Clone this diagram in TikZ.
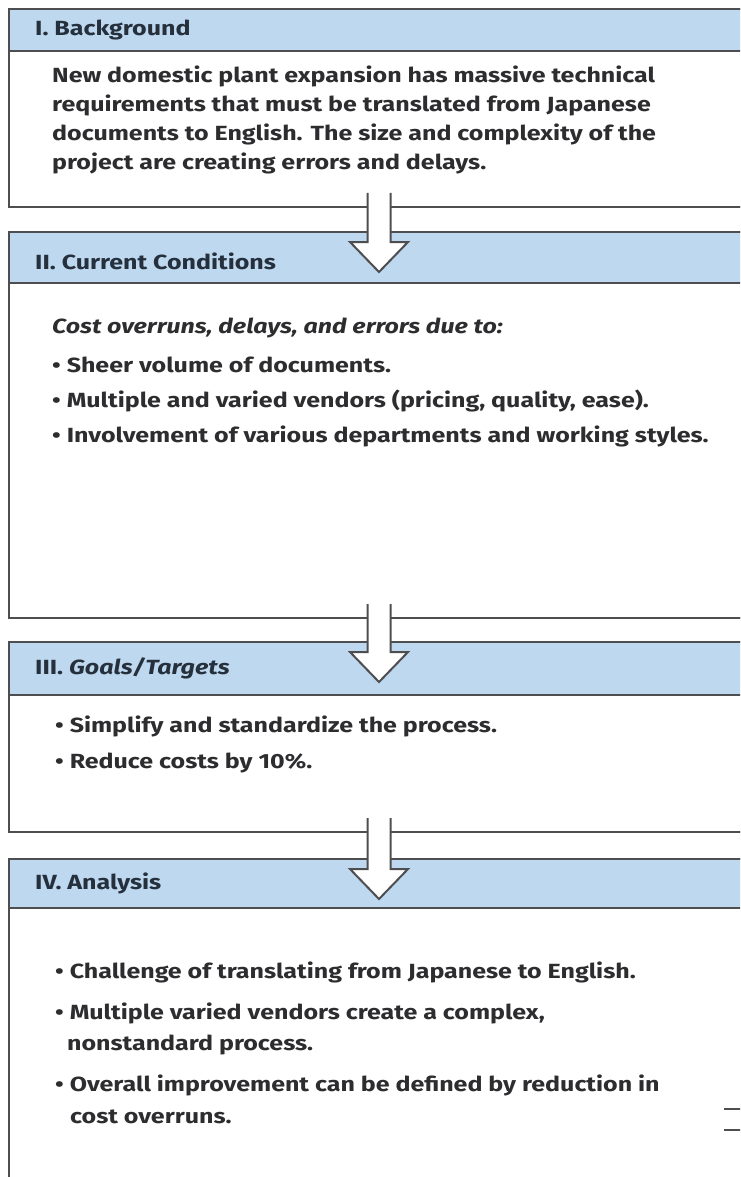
\documentclass[tikz,border=0pt]{standalone}
\usepackage{fontspec}
\setmainfont{Fira Sans}[FakeStretch=1.22]
\usetikzlibrary{calc}
\definecolor{headblue}{RGB}{189,216,239}
\definecolor{boxline}{RGB}{78,78,80}
\definecolor{inktext}{RGB}{45,45,48}
\definecolor{inkhead}{RGB}{38,48,60}
\begin{document}
\begin{tikzpicture}[x=1pt,y=-1pt,
  panel/.style={draw=boxline, line width=2.2pt, fill=white, anchor=north west,
    minimum width=740pt, inner sep=0pt, outer sep=0pt},
  band/.style={fill=headblue},
  rule/.style={draw=boxline, line width=2.2pt},
  title/.style={anchor=west, inner sep=0pt, text=inkhead, font=\fontsize{20.5}{24}\selectfont\bfseries},
  body/.style={anchor=west, inner sep=0pt, text=inktext, font=\fontsize{20.5}{24}\selectfont\bfseries}]
\useasboundingbox (0,0) rectangle (740,1177);
\clip (0,0) rectangle (740,1177);

% ---- panels ----
\node[panel, minimum height=198pt] (p1) at (9,9) {};
\fill[band] (p1.north west) rectangle ($(p1.north east)+(0,42)$);
\draw[rule] ($(p1.north west)+(0,42)$) -- ($(p1.north east)+(0,42)$);
\draw[rule] (p1.north west) rectangle (p1.south east);

\node[panel, minimum height=386pt] (p2) at (9,232) {};
\fill[band] (p2.north west) rectangle ($(p2.north east)+(0,51)$);
\draw[rule] ($(p2.north west)+(0,51)$) -- ($(p2.north east)+(0,51)$);
\draw[rule] (p2.north west) rectangle (p2.south east);

\node[panel, minimum height=190pt] (p3) at (9,642) {};
\fill[band] (p3.north west) rectangle ($(p3.north east)+(0,53)$);
\draw[rule] ($(p3.north west)+(0,53)$) -- ($(p3.north east)+(0,53)$);
\draw[rule] (p3.north west) rectangle (p3.south east);

\node[panel, minimum height=360pt] (p4) at (9,859) {};
\fill[band] (p4.north west) rectangle ($(p4.north east)+(0,49)$);
\draw[rule] ($(p4.north west)+(0,49)$) -- ($(p4.north east)+(0,49)$);
\draw[rule] (p4.north west) rectangle (p4.south east);

% ---- hollow arrows between panels ----
\foreach \a/\b in {p1/p2, p2/p3, p3/p4} {
  \path ($(\a.south)+(0,-14)$) coordinate (s)
        ($(\b.north)+(0,10)$) coordinate (h)
        ($(\b.north)+(0,40)$) coordinate (t);
  \fill[white] ($(s)+(-11.5,0)$) -- ($(h)+(-11.5,0)$) -- ($(h)+(-29,0)$) -- (t)
     -- ($(h)+(29,0)$) -- ($(h)+(11.5,0)$) -- ($(s)+(11.5,0)$) -- cycle;
  \draw[draw=boxline, line width=2pt, line join=miter]
     ($(s)+(-11.5,0)$) -- ($(h)+(-11.5,0)$) -- ($(h)+(-29,0)$) -- (t)
     -- ($(h)+(29,0)$) -- ($(h)+(11.5,0)$) -- ($(s)+(11.5,0)$);
}

% ---- outgoing shaft at the right edge ----
\coordinate (o1) at (724,1109);
\coordinate (o2) at (724,1130);
\draw[draw=boxline, line width=2pt] (o1) -- ++(30,0);
\draw[draw=boxline, line width=2pt] (o2) -- ++(30,0);

% ---- texts ----
\node[title] (t1) at (35,30) {I. Background};
\node[body] (b11) at (52,76) {New domestic plant expansion has massive technical};
\node[body] (b12) at (52,105) {requirements that must be translated from Japanese};
\node[body] (b13) at (52,134) {documents to English. The size and complexity of the};
\node[body] (b14) at (52,163) {project are creating errors and delays.};

\node[title] (t2) at (35,261) {II. Current Conditions};
\node[body] (b21) at (52,328) {\itshape Cost overruns, delays, and errors due to:};
\node[body] (b22) at (52,365) {• Sheer volume of documents.};
\node[body] (b23) at (52,401) {• Multiple and varied vendors (pricing, quality, ease).};
\node[body] (b24) at (52,436) {• Involvement of various departments and working styles.};

\node[title] (t3) at (35,668) {III. \textit{Goals/Targets}};
\node[body] (b31) at (55,726) {• Simplify and standardize the process.};
\node[body] (b32) at (55,763) {• Reduce costs by 10\%.};

\node[title] (t4) at (35,883) {IV. Analysis};
\node[body] (b41) at (55,972) {• Challenge of translating from Japanese to English.};
\node[body] (b42) at (55,1013) {• Multiple varied vendors create a complex,};
\node[body] (b43) at (67,1045) {nonstandard process.};
\node[body] (b44) at (55,1085) {• Overall improvement can be defined by reduction in};
\node[body] (b45) at (70,1117) {cost overruns.};
\end{tikzpicture}
\end{document}
